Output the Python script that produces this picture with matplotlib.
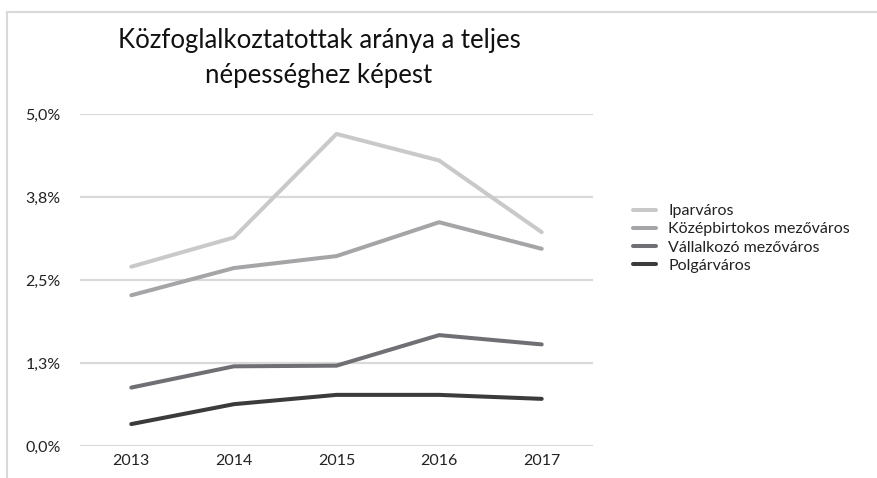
import matplotlib
matplotlib.use("Agg")
import matplotlib.pyplot as plt
from matplotlib.patches import Rectangle

plt.rcParams["font.family"] = ["Lato", "DejaVu Sans"]

years = ["2013", "2014", "2015", "2016", "2017"]
iparvaros = [2.70, 3.14, 4.70, 4.30, 3.22]
kozepbirtokos = [2.27, 2.68, 2.86, 3.37, 2.97]
vallalkozo = [0.88, 1.20, 1.21, 1.67, 1.53]
polgarvaros = [0.33, 0.63, 0.77, 0.77, 0.71]
series_names = ["Iparváros", "Középbirtokos mezőváros",
                "Vállalkozó mezőváros", "Polgárváros"]
yticks = [0.0, 1.25, 2.5, 3.75, 5.0]
ytick_labels = ["0,0%", "1,3%", "2,5%", "3,8%", "5,0%"]
title_lines = ["Közfoglalkoztatottak aránya a teljes", "népességhez képest"]

colors = ["#c9c9c9", "#a5a5a8", "#707074", "#3b3b3b"]

fig = plt.figure(figsize=(8.77, 4.78), dpi=100)
# light chart-area frame (only left and top edges visible in the crop)
fig.patches.append(Rectangle((7 / 877, -0.1), 1.2, 1 - 12 / 478 + 0.1,
                             transform=fig.transFigure, fill=False,
                             edgecolor="#d9d9d9", linewidth=1.5))

ax = fig.add_axes([80 / 877, 1 - 446 / 478, 513 / 877, 332 / 478])
x = range(len(years))
for vals, name, c in zip([iparvaros, kozepbirtokos, vallalkozo, polgarvaros],
                         series_names, colors):
    ax.plot(x, vals, color=c, linewidth=2.9, solid_capstyle="round",
            label=name, zorder=3)

ax.set_xlim(-0.5, len(years) - 0.5)
ax.set_ylim(0, 5)
ax.set_xticks(list(x))
ax.set_xticklabels(years, fontsize=11.5, color="#222222")
ax.set_yticks(yticks)
ax.set_yticklabels(ytick_labels, fontsize=11.5, color="#222222")
ax.tick_params(length=0)
ax.tick_params(axis="y", pad=14)
ax.tick_params(axis="x", pad=6)
for s in ax.spines.values():
    s.set_visible(False)
ax.grid(axis="y", color="#d9d9d9", linewidth=1.6, zorder=0)
ax.set_axisbelow(True)

# two-line title, placed line by line (baselines)
for i, line in enumerate(title_lines):
    fig.text(319 / 877, 1 - (48 + 35 * i) / 478, line, ha="center",
             va="baseline", fontsize=18.5, color="#111111")

leg = ax.legend(loc="upper left", bbox_to_anchor=(1.066, 0.748), frameon=False,
                fontsize=11.5, handlelength=1.4, handletextpad=0.8,
                labelspacing=0.25, borderaxespad=0)
for t in leg.get_texts():
    t.set_color("#222222")

fig.savefig("out.png", dpi=100, facecolor="white")
